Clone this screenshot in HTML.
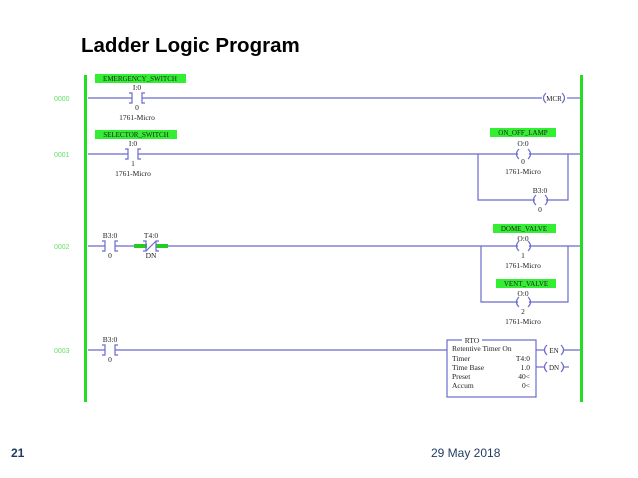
<!DOCTYPE html>
<html><head><meta charset="utf-8"><style>
html,body{margin:0;padding:0;background:#fff;}
svg{display:block}
.s{font-family:"Liberation Serif",serif;font-size:7.5px;fill:#222}
.g{font-family:"Liberation Sans",sans-serif;font-size:7px;fill:#66dd66}
.lb{font-family:"Liberation Serif",serif;font-size:7px;fill:#222}
</style></head><body>
<svg width="638" height="478" viewBox="0 0 638 478" xmlns="http://www.w3.org/2000/svg">
<text x="81" y="52" font-family="Liberation Sans,sans-serif" font-weight="bold" font-size="20.5" fill="#000">Ladder Logic Program</text>
<!-- rails -->
<rect x="84" y="75" width="3" height="327" fill="#22dd22"/>
<rect x="580" y="75" width="3" height="327" fill="#22dd22"/>
<g stroke="#6a6acf" stroke-width="1.2" fill="none">
<!-- rung 0 -->
<line x1="88" y1="98" x2="132" y2="98"/><line x1="142" y1="98" x2="542" y2="98"/><line x1="567" y1="98" x2="580" y2="98"/>
<path d="M129 93h3v10h-3M145 93h-3v10h3"/>
<path d="M546 93q-5 5 0 10M562 93q5 5 0 10"/>
<!-- rung 1 -->
<line x1="88" y1="154" x2="128" y2="154"/><line x1="138" y1="154" x2="518" y2="154"/><line x1="529" y1="154" x2="580" y2="154"/>
<path d="M125 149h3v10h-3M141 149h-3v10h3"/>
<path d="M519 149q-5 5 0 10M528 149q5 5 0 10"/>
<path d="M478 154v46h57M546 200h22v-46"/>
<path d="M536 195q-5 5 0 10M545 195q5 5 0 10"/>
<!-- rung 2 -->
<line x1="88" y1="246" x2="105" y2="246"/><line x1="115" y1="246" x2="146" y2="246"/><line x1="156" y1="246" x2="518" y2="246"/><line x1="529" y1="246" x2="580" y2="246"/>
<path d="M102 241h3v10h-3M118 241h-3v10h3"/>
<path d="M519 241q-5 5 0 10M528 241q5 5 0 10"/>
<path d="M481 246v56h37M529 302h39v-56"/>
<path d="M519 297q-5 5 0 10M528 297q5 5 0 10"/>
<!-- rung 3 -->
<line x1="88" y1="350" x2="105" y2="350"/><line x1="115" y1="350" x2="447" y2="350"/>
<path d="M102 345h3v10h-3M118 345h-3v10h3"/>
<rect x="447" y="340" width="89" height="57"/>
<line x1="536" y1="350" x2="544" y2="350"/><line x1="563" y1="350" x2="580" y2="350"/>
<path d="M547 345q-5 5 0 10M561 345q5 5 0 10"/>
<line x1="536" y1="367" x2="544" y2="367"/><line x1="563" y1="367" x2="569" y2="367"/>
<path d="M547 362q-5 5 0 10M561 362q5 5 0 10"/>
</g>
<!-- NC highlighted contact -->
<rect x="134" y="244" width="13" height="4" fill="#22cc22"/><rect x="156" y="244" width="12" height="4" fill="#22cc22"/>
<g stroke="#6a6acf" stroke-width="1.2" fill="none"><path d="M143 241h3v10h-3M159 241h-3v10h3M146 251l10-10"/></g>
<!-- RTO label gap -->
<rect x="462" y="337" width="20" height="6" fill="#fff"/>
<!-- green labels -->
<g fill="#33ee33">
<rect x="95" y="74" width="91" height="9"/>
<rect x="95" y="130" width="82" height="9"/>
<rect x="490" y="128" width="66" height="9"/>
<rect x="493" y="224" width="63" height="9"/>
<rect x="496" y="279" width="60" height="9"/>
</g>
<g class="lb" text-anchor="middle">
<text x="140" y="81">EMERGENCY_SWITCH</text>
<text x="136" y="137">SELECTOR_SWITCH</text>
<text x="523" y="135">ON_OFF_LAMP</text>
<text x="524" y="231">DOME_VALVE</text>
<text x="526" y="286">VENT_VALVE</text>
</g>
<g class="g"><text x="54" y="101">0000</text><text x="54" y="157">0001</text><text x="54" y="249">0002</text><text x="54" y="353">0003</text></g>
<g class="s" text-anchor="middle">
<text x="137" y="90">I:0</text><text x="137" y="110">0</text><text x="137" y="120">1761-Micro</text>
<text x="554" y="101" font-size="7">MCR</text>
<text x="133" y="146">I:0</text><text x="133" y="166">1</text><text x="133" y="176">1761-Micro</text>
<text x="523" y="146">O:0</text><text x="523" y="164">0</text><text x="523" y="174">1761-Micro</text>
<text x="540" y="193">B3:0</text><text x="540" y="212">0</text>
<text x="110" y="238">B3:0</text><text x="110" y="258">0</text>
<text x="151" y="238">T4:0</text><text x="151" y="258">DN</text>
<text x="523" y="241">O:0</text><text x="523" y="258">1</text><text x="523" y="268">1761-Micro</text>
<text x="523" y="296">O:0</text><text x="523" y="314">2</text><text x="523" y="324">1761-Micro</text>
<text x="110" y="342">B3:0</text><text x="110" y="362">0</text>
<text x="472" y="343">RTO</text>
<text x="554" y="353" font-size="7">EN</text><text x="554" y="370" font-size="7">DN</text>
</g>
<g class="s">
<text x="452" y="351">Retentive Timer On</text>
<text x="452" y="361">Timer</text><text x="530" y="361" text-anchor="end">T4:0</text>
<text x="452" y="370">Time Base</text><text x="530" y="370" text-anchor="end">1.0</text>
<text x="452" y="379">Preset</text><text x="530" y="379" text-anchor="end">40&lt;</text>
<text x="452" y="388">Accum</text><text x="530" y="388" text-anchor="end">0&lt;</text>
</g>
<text x="11" y="457" font-family="Liberation Sans,sans-serif" font-weight="bold" font-size="12" fill="#1f3a5f">21</text>
<text x="431" y="457" font-family="Liberation Sans,sans-serif" font-size="12" fill="#1f3a5f">29 May 2018</text>
</svg>
</body></html>
